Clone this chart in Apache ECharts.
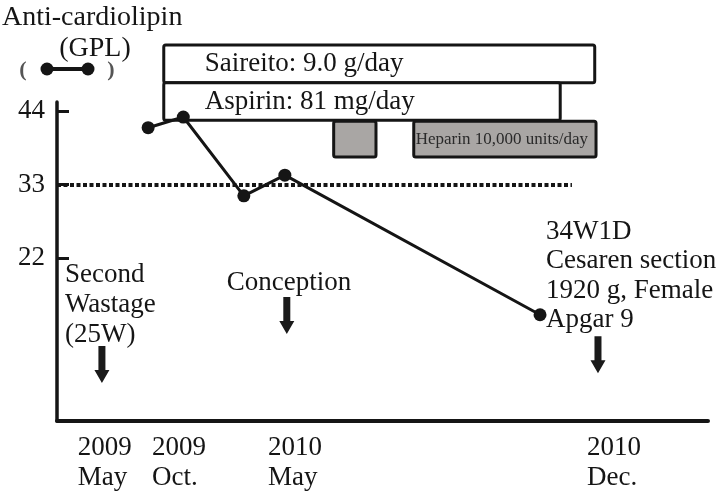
<!DOCTYPE html>
<html>
<head>
<meta charset="utf-8">
<script src="https://cdn.jsdelivr.net/npm/echarts@6/dist/echarts.min.js"></script>
<style>
  html, body { margin: 0; padding: 0; background: #fff; }
  #main { width: 720px; height: 496px; }
</style>
</head>
<body>
<div id="main"></div>
<script>
  // x is a position along the timeline (0-100), the original axis is not linear in time
  var tickPos = [3.2, 14.6, 32.4, 81.4];
  var tickLabels = ['2009\nMay', '2009\nOct.', '2010\nMay', '2010\nDec.'];
  var yTicks = [22, 33, 44];
  var cutoff = 33;

  // anti-cardiolipin (GPL)
  var aclX = [14.0, 19.4, 28.7, 35.0, 74.2];
  var aclY = [41.5, 43.1, 31.3, 34.4, 13.5];

  // treatment periods
  var treatNames = ['Saireito: 9.0 g/day', 'Aspirin: 81 mg/day', '', 'Heparin 10,000 units/day'];
  var treatStart = [16.4, 16.4, 42.5, 54.8];
  var treatEnd = [82.6, 77.3, 49.0, 82.8];
  var treatRow = [0, 1, 2, 2];

  // events marked with arrows
  var eventX = [6.9, 35.3, 83.1];
  var eventY = [6.05, 13.4, 7.5];

  var serif = '"Liberation Serif", "DejaVu Serif", serif';

  var aclData = aclX.map(function (x, i) { return [x, aclY[i]]; });
  var treatData = treatStart.map(function (s, i) {
    return [s, treatEnd[i], treatRow[i], treatNames[i]];
  });
  var eventData = eventX.map(function (x, i) { return [x, eventY[i]]; });

  function renderTreat(params, api) {
    var row = api.value(2);
    var p0 = api.coord([api.value(0), row]);
    var p1 = api.coord([api.value(1), row]);
    var h = api.size([0, 1])[1];
    var heparin = row === 2;
    var inset = heparin ? 1 : 0;
    var name = treatNames[params.dataIndex];
    var kids = [{
      type: 'rect',
      shape: { x: p0[0], y: p0[1] - h / 2 + inset, width: p1[0] - p0[0], height: h - inset * 2, r: 2 },
      style: { fill: heparin ? '#a9a6a4' : '#fff', stroke: '#151515', lineWidth: 3 }
    }];
    if (name) {
      kids.push({
        type: 'text',
        style: {
          text: name,
          x: p0[0] + (heparin ? 2 : 41),
          y: p0[1],
          verticalAlign: 'middle',
          font: (heparin ? '17px ' : '27px ') + serif,
          fill: heparin ? '#2a2a2a' : '#151515'
        }
      });
    }
    return { type: 'group', children: kids };
  }

  var myChar = echarts.init(document.getElementById('main'));
  var option = {
    animation: false,
    backgroundColor: '#fff',
    grid: [
      { left: 57, right: 12, top: 102, bottom: 75, outerBoundsMode: 'none' },
      { left: 57, right: 12, top: 45, height: 113, outerBoundsMode: 'none' }
    ],
    xAxis: [
      {
        type: 'value', gridIndex: 0, min: 0, max: 100,
        splitLine: { show: false },
        axisLine: { onZero: false, lineStyle: { color: '#151515', width: 4, cap: 'round' } },
        axisTick: { show: false },
        axisLabel: {
          customValues: tickPos,
          align: 'left',
          margin: 12,
          lineHeight: 30,
          fontFamily: serif, fontSize: 27, color: '#151515',
          formatter: function (v) { return tickLabels[tickPos.indexOf(v)]; }
        }
      },
      { type: 'value', gridIndex: 1, min: 0, max: 100, show: false }
    ],
    yAxis: [
      {
        type: 'value', gridIndex: 0, min: -2.4, max: 45.35,
        splitLine: { show: false },
        axisLine: { show: true, onZero: false, lineStyle: { color: '#151515', width: 3.5 } },
        axisTick: { show: true, inside: true, length: 12, customValues: yTicks, lineStyle: { color: '#151515', width: 3 } },
        axisLabel: { customValues: yTicks, margin: 12, fontFamily: serif, fontSize: 27, color: '#151515' }
      },
      { type: 'category', gridIndex: 1, data: ['0', '1', '2'], inverse: true, show: false }
    ],
    series: [
      {
        type: 'custom',
        xAxisIndex: 1, yAxisIndex: 1,
        renderItem: renderTreat,
        clip: false,
        silent: true,
        data: treatData
      },
      {
        name: 'Anti-cardiolipin',
        type: 'line',
        xAxisIndex: 0, yAxisIndex: 0,
        data: aclData,
        symbol: 'circle',
        symbolSize: 13,
        lineStyle: { color: '#151515', width: 3 },
        itemStyle: { color: '#151515' },
        markLine: {
          silent: true,
          symbol: 'none',
          label: { show: false },
          lineStyle: { color: '#151515', width: 4, type: [4, 2.5] },
          data: [[{ coord: [0, cutoff] }, { coord: [79.1, cutoff] }]]
        }
      },
      {
        type: 'scatter',
        xAxisIndex: 0, yAxisIndex: 0,
        silent: true,
        data: eventData,
        symbol: 'path://M4,0 L11,0 L11,24 L15,24 L7.5,37 L0,24 L4,24 Z',
        symbolSize: [15, 37],
        itemStyle: { color: '#1a1a1a', opacity: 1 }
      }
    ],
    graphic: [
      { type: 'text', style: { text: 'Anti-cardiolipin', x: 2, y: 18, verticalAlign: 'middle', font: '28px ' + serif, fill: '#151515' } },
      { type: 'text', style: { text: '(GPL)', x: 95, y: 49, align: 'center', verticalAlign: 'middle', font: '28px ' + serif, fill: '#151515' } },
      { type: 'text', style: { text: '(', x: 23, y: 70, align: 'center', verticalAlign: 'middle', font: 'bold 22px ' + serif, fill: '#555' } },
      { type: 'text', style: { text: ')', x: 111, y: 70, align: 'center', verticalAlign: 'middle', font: 'bold 22px ' + serif, fill: '#555' } },
      { type: 'line', shape: { x1: 47, y1: 69, x2: 88, y2: 69 }, style: { stroke: '#151515', lineWidth: 4 } },
      { type: 'circle', shape: { cx: 47, cy: 69, r: 6.5 }, style: { fill: '#151515' } },
      { type: 'circle', shape: { cx: 88, cy: 69, r: 6.5 }, style: { fill: '#151515' } },
      { type: 'text', style: { text: 'Second\nWastage\n(25W)', x: 65, y: 260, lineHeight: 30, font: '27px ' + serif, fill: '#151515' } },
      { type: 'text', style: { text: 'Conception', x: 289, y: 283, align: 'center', verticalAlign: 'middle', font: '27px ' + serif, fill: '#151515' } },
      { type: 'text', style: { text: '34W1D\nCesaren section\n1920 g, Female\nApgar 9', x: 546, y: 217, lineHeight: 29.5, font: '27px ' + serif, fill: '#151515' } }
    ]
  };
  myChar.setOption(option);
</script>
</body>
</html>
